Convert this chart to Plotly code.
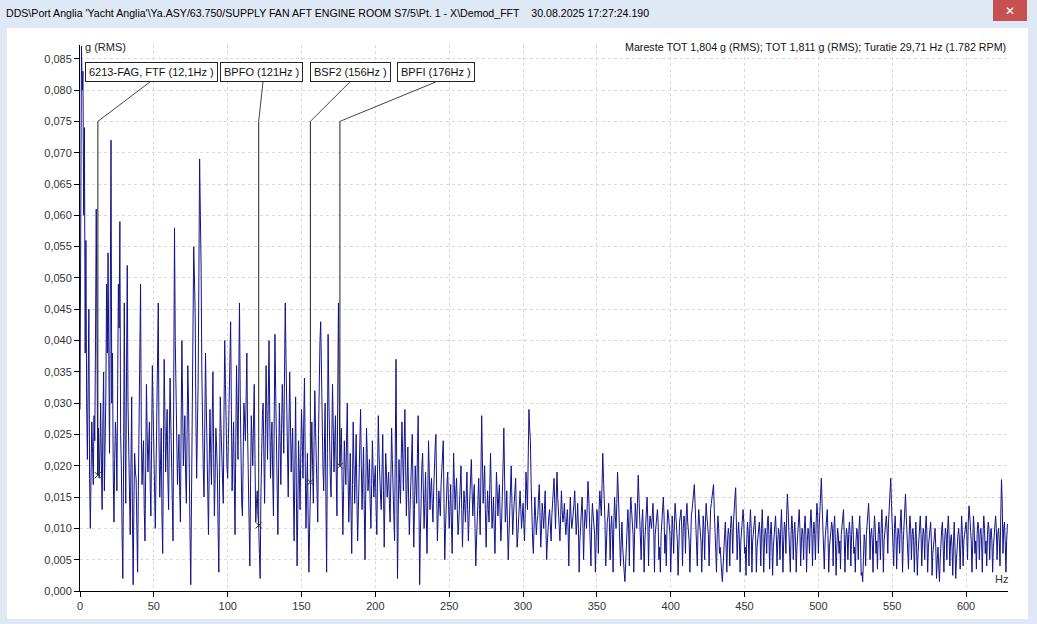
import plotly.graph_objects as go

# ---------------- data ----------------
# demodulated FFT amplitude in milli-g (RMS): values at whole Hz (0..628)
amp_mg = [
    29, 87, 83, 74, 56, 21, 45, 10, 27, 17,
    24, 61, 18.5, 18, 30, 13, 35, 21, 49, 54,
    22, 72, 38, 11, 27, 16, 49, 59, 20, 2,
    46, 14, 52, 25, 9, 31, 1, 22, 18, 3,
    28, 49, 17, 24, 8, 33, 19, 27, 12, 36,
    21, 10, 30, 46, 15, 26, 6, 37, 19, 29,
    13, 34, 22, 8, 58, 31, 17, 25, 11, 40,
    20, 28, 14, 36, 23, 1, 30, 55, 44, 18,
    33, 69, 52, 24, 15, 38, 21, 9, 29, 17,
    35, 12, 26, 19, 3, 31, 22, 14, 40, 25,
    18, 33, 43, 16, 27, 9, 36, 21, 46, 19,
    12, 30, 24, 38, 15, 4, 28, 20, 33, 11,
    16, 10.5, 2, 25, 30, 14, 36, 21, 40, 18,
    27, 12, 41, 23, 9, 30, 17, 33, 22, 46,
    28, 15, 35, 19, 26, 8, 31, 4, 24, 13,
    29, 18, 34, 10, 22, 3, 17.4, 27, 14, 32,
    20, 11, 37, 43, 24, 16, 30, 3, 41, 22,
    15, 33, 19, 28, 12, 46, 20, 26, 9, 24,
    17, 30, 11, 22, 6, 27, 14, 25, 8, 19,
    29, 13, 23, 5, 26, 16, 21, 10, 24, 15,
    20, 9, 28, 17, 13, 25, 7, 22, 15, 19,
    11, 26, 18, 8, 37, 2, 21, 14, 27, 16,
    29, 12, 23, 9, 18, 25, 7, 20, 14, 28,
    1, 17, 22, 10, 19, 6, 24, 13, 18, 11,
    21, 25, 8, 16, 12, 20, 24, 5, 15, 19,
    10, 17, 6, 22, 13, 18, 9, 14, 20, 7,
    16, 11, 19, 8, 15, 21, 12, 17, 4, 13,
    18, 9, 28, 14, 20, 7, 16, 11, 22, 10,
    15, 6, 19, 12, 17, 8, 14, 26, 11, 16,
    5, 13, 20, 9, 15, 18, 7, 12, 16, 10,
    14, 8, 19, 13, 29, 24, 11, 6, 15, 9,
    12, 17, 7, 14, 10, 16, 5, 11, 13, 8,
    15, 18, 10, 19, 12, 8, 16, 11, 14, 9,
    13, 4, 15, 10, 12, 16, 9, 14, 3, 11,
    15, 5, 13, 10, 17.5, 12, 4, 14, 11, 3,
    13, 6, 16, 12, 22, 15, 4, 11, 14, 5,
    12, 3, 15, 10, 19, 13, 4, 11, 4, 1.5,
    9, 13, 4, 15, 11, 3, 14, 10, 18.5, 12,
    5, 13, 3, 11, 15, 4, 12, 10, 14, 3,
    11, 13, 5, 3, 12, 15, 6, 4, 13, 11,
    3, 12, 6, 14, 10, 2.5, 11, 13, 4, 12,
    6, 14, 9, 3, 12, 15, 17, 11, 4, 13,
    10, 3, 12, 5, 14, 11, 4, 13, 15, 17,
    10, 3, 12, 6, 4, 1.5, 8, 11, 3, 10,
    4, 12, 6, 14, 16.5, 5, 11, 3, 10, 13,
    6, 2.5, 11, 4, 13, 3, 10, 12, 3, 9,
    11, 4, 13, 3, 10, 6, 12, 3.5, 11, 2.5,
    9, 12, 4, 10, 5, 13, 3, 11, 6, 15.5,
    10, 3, 12, 5, 11, 3, 9, 13, 4, 10,
    5, 12, 3, 10, 6, 13, 4, 11, 5, 14,
    6, 12, 18, 11, 3.5, 10, 13, 3, 9, 11,
    4, 12, 2.5, 10, 6, 3.5, 11, 13, 3, 10,
    5, 11, 4, 12, 6, 3, 10, 5, 12, 2.5,
    1.5, 9, 4, 11, 14, 5, 10, 3, 12, 6,
    3.5, 11, 5, 13, 3, 10, 12, 6, 14, 18,
    11, 4, 12, 3.5, 10, 6, 13, 3, 11, 15.5,
    9, 3.5, 12, 5, 10, 3, 11, 2.5, 9, 12,
    4, 10, 5, 12, 3, 9, 11, 2.5, 8, 10,
    2, 7, 1.5, 9, 11, 3, 10, 5, 12, 4,
    9, 2.5, 11, 2, 8, 10, 3.5, 12, 4, 9,
    11, 5, 13.6, 10, 3, 12, 6, 3.5, 11, 5,
    10, 3, 12, 6, 4, 11, 5, 10, 3, 9,
    12, 5, 10, 4, 17.8, 6, 11, 3, 10.7,
]
# values at the half-Hz lines (0.5 .. 627.5), milli-g (RMS)
amp_half_mg = [
    52, 80, 60, 38, 30, 33, 18, 19, 22, 28,
    40, 40, 26, 22, 20, 27, 16, 31, 38, 30,
    45, 30, 19, 21, 24, 33, 42, 25, 9, 20,
    25, 35, 30, 16, 20, 12, 14, 19, 10, 16,
    37, 26, 21, 13, 20, 25, 23, 17, 24, 29,
    15, 19, 38, 24, 20, 12, 22, 28, 24, 18,
    25, 27, 14, 34, 40, 22, 21, 16, 27, 30,
    24, 19, 25, 30, 9, 14, 42, 50, 27, 26,
    50, 60, 35, 19, 27, 30, 14, 20, 22, 27,
    22, 18, 23, 10, 18, 26, 17, 28, 33, 20,
    26, 38, 29, 22, 17, 24, 28, 34, 31, 14,
    22, 27, 31, 25, 9, 17, 24, 27, 21, 14,
    12, 6, 15, 28, 21, 25, 29, 31, 28, 24,
    18, 27, 32, 15, 20, 24, 26, 28, 35, 37,
    21, 26, 27, 23, 16, 20, 16, 13, 19, 22,
    24, 27, 21, 16, 11, 10, 22, 20, 24, 26,
    15, 25, 40, 33, 20, 23, 15, 22, 31, 18,
    25, 26, 24, 19, 30, 32, 23, 17, 16, 20,
    24, 19, 16, 13, 17, 20, 19, 15, 13, 24,
    20, 18, 13, 16, 22, 18, 14, 17, 19, 18,
    13, 19, 22, 15, 20, 16, 15, 19, 17, 14,
    18, 21, 12, 24, 18, 12, 17, 21, 22, 23,
    20, 17, 15, 13, 22, 16, 13, 17, 22, 15,
    9, 20, 16, 14, 12, 15, 19, 16, 14, 16,
    23, 16, 12, 14, 17, 22, 14, 10, 17, 14,
    13, 11, 14, 17, 16, 13, 11, 17, 13, 12,
    14, 15, 13, 12, 18, 16, 15, 10, 8, 16,
    13, 19, 21, 17, 13, 12, 13, 17, 16, 12,
    10, 13, 16, 15, 12, 11, 20, 18, 13, 10,
    9, 17, 14, 12, 16, 12, 9, 14, 13, 12,
    11, 13, 16, 21, 26, 17, 8, 10, 12, 11,
    15, 12, 10, 12, 13, 10, 8, 12, 10, 12,
    17, 14, 15, 15, 10, 12, 13, 12, 11, 11,
    10, 11, 12, 11, 14, 12, 11, 10, 8, 13,
    11, 10, 12, 14, 15, 10, 11, 12, 9, 10,
    12, 13, 14, 17, 18, 11, 9, 12, 11, 10,
    9, 11, 12, 14, 16, 9, 8, 7, 3, 5,
    11, 10, 12, 13, 9, 10, 12, 14, 15, 10,
    11, 9, 8, 13, 11, 10, 11, 12, 10, 9,
    12, 11, 7, 9, 13, 12, 9, 10, 12, 9,
    9, 10, 11, 12, 8, 8, 12, 10, 10, 11,
    12, 11, 8, 9, 13, 16, 14, 9, 10, 11,
    8, 9, 10, 11, 12, 9, 10, 14, 16, 13,
    8, 9, 10, 7, 3, 5, 9, 8, 8, 9,
    10, 10, 11, 15, 12, 9, 8, 8, 11, 11,
    7, 8, 9, 10, 10, 8, 11, 9, 7, 10,
    9, 10, 9, 8, 9, 11, 9, 9, 8, 7,
    10, 9, 8, 9, 10, 9, 8, 10, 12, 13,
    8, 9, 10, 9, 8, 7, 11, 10, 8, 9,
    10, 9, 8, 9, 11, 10, 9, 9, 11, 12,
    10, 15, 14, 9, 8, 11, 9, 7, 10, 10,
    10, 8, 7, 9, 8, 9, 12, 9, 8, 9,
    9, 9, 9, 10, 7, 8, 9, 10, 8, 3,
    5, 8, 9, 12, 11, 9, 8, 9, 10, 8,
    9, 9, 10, 9, 8, 11, 10, 11, 16, 14,
    9, 10, 9, 8, 9, 11, 9, 8, 13, 12,
    8, 9, 10, 9, 8, 8, 7, 6, 10, 9,
    8, 9, 10, 9, 7, 10, 8, 6, 9, 7,
    5, 4, 5, 10, 8, 8, 9, 10, 9, 8,
    7, 8, 7, 5, 9, 8, 9, 9, 8, 10,
    9, 11, 12, 8, 9, 10, 8, 9, 10, 9,
    8, 9, 10, 8, 9, 10, 9, 8, 7, 10,
    10, 9, 8, 12, 14, 10, 8, 8,
]

freq_hz = []
amp_g = []
for i, v in enumerate(amp_mg):
    freq_hz.append(i)
    amp_g.append(v / 1000.0)
    if i < len(amp_half_mg):
        freq_hz.append(i + 0.5)
        amp_g.append(amp_half_mg[i] / 1000.0)

# bearing fault frequency markers
fault_labels = ["6213-FAG, FTF (12,1Hz )", "BPFO (121Hz )", "BSF2 (156Hz )", "BPFI (176Hz )"]
fault_freqs = [12.1, 121, 156, 176]
fault_amps = [0.0185, 0.0105, 0.0174, 0.0200]

x_ticks = [0, 50, 100, 150, 200, 250, 300, 350, 400, 450, 500, 550, 600]
y_ticks = [i * 0.005 for i in range(18)]
y_ticktext = ["0,000", "0,005", "0,010", "0,015", "0,020", "0,025", "0,030", "0,035",
              "0,040", "0,045", "0,050", "0,055", "0,060", "0,065", "0,070", "0,075",
              "0,080", "0,085"]

window_title = ("DDS\\Port Anglia 'Yacht Anglia'\\Ya.ASY/63.750/SUPPLY FAN AFT ENGINE ROOM S7/5\\Pt. 1 - X\\Demod_FFT"
                "\u00a0\u00a0\u00a0\u00a030.08.2025 17:27:24.190")
info_text = "Mareste TOT 1,804 g (RMS); TOT 1,811 g (RMS); Turatie 29,71 Hz (1.782 RPM)"

# ---------------- layout constants ----------------
W, H = 1037, 624
L, R, T, B = 80, 29, 45, 33
PW, PH = W - L - R, H - T - B
XMAX = 628.4
YMAX = 0.0872


def px(x):
    return (x - L) / PW


def py(y):
    return (H - B - y) / PH


FONT = "Arial, Liberation Sans, sans-serif"
LINE_COL = "#12128a"

label_y = 0.0829
label_x = [48.4, 122.6, 183.0, 241.0]
leader_top_x = [47.4, 123.9, 182.8, 241.0]
leader_top_y = 0.0813
knee_y = 0.075

fig = go.Figure()

fig.add_trace(go.Scatter(
    x=freq_hz, y=amp_g, mode="lines",
    line=dict(color=LINE_COL, width=1),
    hoverinfo="skip", showlegend=False,
))

shapes = []
shapes.append(dict(type="rect", xref="paper", yref="paper",
                   x0=px(7), x1=px(1028), y0=py(619), y1=py(28),
                   fillcolor="white", line=dict(width=0), layer="below"))
shapes.append(dict(type="rect", xref="paper", yref="paper",
                   x0=px(993), x1=px(1027), y0=py(21), y1=py(0),
                   fillcolor="#c75050", line=dict(width=0), layer="below"))

for f, a, lx in zip(fault_freqs, fault_amps, leader_top_x):
    shapes.append(dict(type="line", xref="x", yref="y", x0=f, x1=f, y0=a, y1=knee_y,
                       line=dict(color="#222222", width=1)))
    shapes.append(dict(type="line", xref="x", yref="y", x0=f, x1=lx, y0=knee_y, y1=leader_top_y,
                       line=dict(color="#444444", width=1)))

fig.add_trace(go.Scatter(
    x=fault_freqs, y=fault_amps, mode="markers",
    marker=dict(symbol="x-thin", size=6, line=dict(color="#333333", width=1)),
    hoverinfo="skip", showlegend=False,
))

annotations = []
for text, lx in zip(fault_labels, label_x):
    annotations.append(dict(x=lx, y=label_y, xref="x", yref="y", text=text, showarrow=False,
                            font=dict(family=FONT, size=11, color="#111111"),
                            bgcolor="white", bordercolor="#222222", borderwidth=1, borderpad=3))

annotations += [
    dict(x=px(4), y=py(13), xref="paper", yref="paper", text=window_title, showarrow=False,
         xanchor="left", yanchor="middle", font=dict(family=FONT, size=10.6, color="#000000")),
    dict(x=px(1010), y=py(11), xref="paper", yref="paper", text="\u2715", showarrow=False,
         xanchor="center", yanchor="middle", font=dict(family="DejaVu Sans", size=12, color="white")),
    dict(x=px(83), y=py(47), xref="paper", yref="paper", text="g (RMS)", showarrow=False,
         xanchor="left", yanchor="middle", font=dict(family=FONT, size=11, color="#222222")),
    dict(x=px(1008), y=py(47), xref="paper", yref="paper", text=info_text, showarrow=False,
         xanchor="right", yanchor="middle", font=dict(family=FONT, size=10.7, color="#111111")),
    dict(x=px(1001), y=py(579), xref="paper", yref="paper", text="Hz", showarrow=False,
         xanchor="center", yanchor="middle", font=dict(family=FONT, size=11, color="#333333")),
]

fig.update_layout(
    width=W, height=H,
    margin=dict(l=L, r=R, t=T, b=B),
    paper_bgcolor="#dfe8f5",
    plot_bgcolor="rgba(0,0,0,0)",
    shapes=shapes,
    annotations=annotations,
    showlegend=False,
    font=dict(family=FONT, size=11, color="#333333"),
)

axis_common = dict(
    showgrid=True, gridcolor="#d9d9d9", griddash="3px,3px", gridwidth=1,
    showline=True, linecolor="black", linewidth=1,
    ticks="outside", ticklen=5, tickcolor="black",
    tickfont=dict(family=FONT, size=11, color="#333333"),
    zeroline=False, fixedrange=True,
)
fig.update_xaxes(range=[0, XMAX], tickvals=x_ticks, ticktext=[str(v) for v in x_ticks], **axis_common)
fig.update_yaxes(range=[0, YMAX], tickvals=y_ticks, ticktext=y_ticktext, **axis_common)

fig.write_html("out.html", config={"displayModeBar": False})
